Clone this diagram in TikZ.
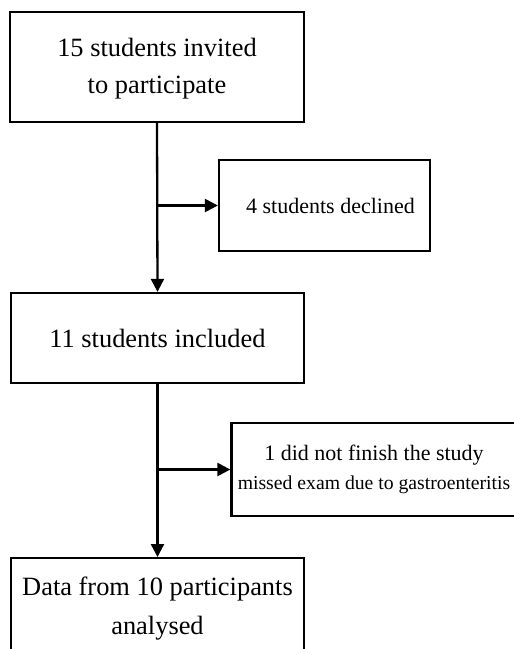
\documentclass[tikz,border=0pt]{standalone}
\usepackage{fontspec}
\setmainfont{Liberation Serif}
\usetikzlibrary{arrows.meta}
\begin{document}
\begin{tikzpicture}[x=1pt,y=-1pt,
  box/.style={draw,line width=2.3pt,inner sep=0pt,align=center,font=\fontsize{26.4}{37}\selectfont},
  side/.style={box,font=\fontsize{22}{29}\selectfont},
  conn/.style={line width=2.3pt},
  arr/.style={conn,-{Triangle[length=13pt,width=13pt]}}]
\useasboundingbox (0,0) rectangle (514,649);
\clip (0,0) rectangle (514,649);
\node[box,minimum width=294pt,minimum height=110pt,text depth=3pt] (b1) at (157,67) {15 students invited\\to participate};
\node[side,minimum width=211pt,minimum height=91pt] (d1) at (324.5,205.5) {\hspace*{12pt}4 students declined};
\node[box,minimum width=293pt,minimum height=90pt] (b2) at (157.5,338) {11 students included};
\node[side,minimum width=285pt,minimum height=93pt] (d2) at (374,469.5) {1 did not finish the study\\{\fontsize{19.7}{24}\selectfont missed exam due to gastroenteritis}};
\node[box,minimum width=293pt,minimum height=130pt,anchor=north] (b3) at (157.5,557) {};
\node[font=\fontsize{26.4}{39}\selectfont,align=center,anchor=north] (t3) at (157.5,573) {Data from 10 participants\\analysed};
\coordinate (j1) at (b1.south |- d1.west);
\coordinate (j2) at (b2.south |- d2.west);
\draw[arr] (b1.south) -- (b2.north);
\draw[arr] (j1) -- (d1.west);
\draw[arr] (b2.south) -- (b3.north);
\draw[arr] (j2) -- (d2.west);
\end{tikzpicture}
\end{document}
